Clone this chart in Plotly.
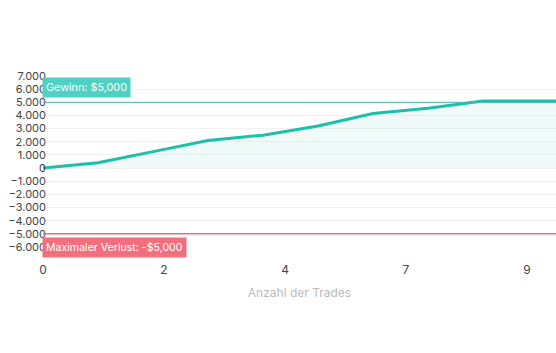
import plotly.graph_objects as go

trades = [0, 1, 2, 3, 4, 5, 6, 7, 8, 9, 10]
balance = [0, 400, 1250, 2100, 2500, 3200, 4150, 4550, 5100, 5100, 5100]

x_tick_vals = [0, 2.2, 4.4, 6.6, 8.8]
x_tick_text = ["0", "2", "4", "7", "9"]
y_tick_vals = [7000, 6000, 5000, 4000, 3000, 2000, 1000, 0, -1000, -2000, -3000, -4000, -5000, -6000]

profit_target = 5000
max_loss = -5000
profit_label = "Gewinn: $5,000"
loss_label = "Maximaler Verlust: -$5,000"
x_title = "Anzahl der Trades"

FONT = "Inter"
TEAL = "#1cbfa8"

fig = go.Figure()
fig.add_trace(go.Scatter(
    x=trades, y=balance, mode="lines",
    line=dict(color=TEAL, width=3),
    fill="tozeroy", fillcolor="rgba(28,191,168,0.07)",
    hoverinfo="skip", showlegend=False,
))

fig.add_shape(type="line", xref="paper", x0=0, x1=1, yref="y", y0=profit_target, y1=profit_target,
              line=dict(color="#3dbdb0", width=1))
fig.add_shape(type="line", xref="paper", x0=0, x1=1, yref="y", y0=max_loss, y1=max_loss,
              line=dict(color="#e5737c", width=1.5))

fig.add_annotation(x=0, xref="x", y=profit_target, yref="y", text=profit_label,
                   showarrow=False, xanchor="left", yanchor="bottom", yshift=4, xshift=-1,
                   bgcolor="#4fd0c2", borderpad=3, font=dict(color="white", size=10.8, family=FONT))
fig.add_annotation(x=0, xref="x", y=max_loss, yref="y", text=loss_label,
                   showarrow=False, xanchor="left", yanchor="top", yshift=-3, xshift=-1,
                   bgcolor="#f26f7d", borderpad=3, font=dict(color="white", size=10.6, family=FONT))

fig.update_layout(
    width=556, height=353,
    margin=dict(l=43, r=0, t=76, b=106),
    plot_bgcolor="white", paper_bgcolor="white",
    separators=",.",
    font=dict(family=FONT, color="#444"),
    xaxis=dict(
        range=[0, 513 / 55], tickvals=x_tick_vals, ticktext=x_tick_text,
        showgrid=False, zeroline=False, showline=False,
        ticks="outside", ticklen=12, tickcolor="rgba(0,0,0,0)",
        tickfont=dict(size=12, color="#444", family=FONT),
        title=dict(text=x_title, font=dict(size=12, color="#bbbbbb", family=FONT), standoff=12),
    ),
    yaxis=dict(
        range=[-6000, 7000], tickvals=y_tick_vals, tickformat=",d",
        showgrid=True, gridcolor="#f1f1f1", gridwidth=1,
        zeroline=False, showline=False,
        tickfont=dict(size=11, color="#444", family=FONT),
        ticklabelstandoff=-4,
    ),
)

fig.write_html("out.html")
